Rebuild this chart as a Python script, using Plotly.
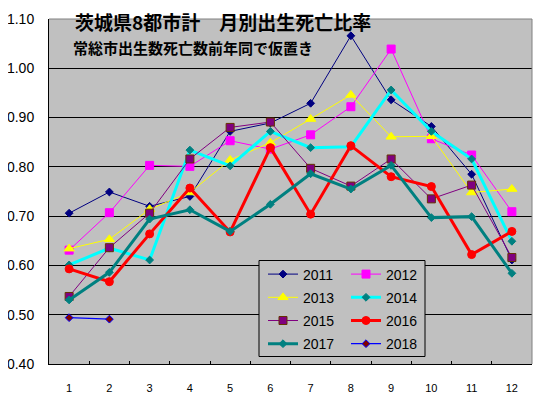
import plotly.graph_objects as go

months = [str(i) for i in range(1, 13)]
years = ["2011", "2012", "2013", "2014", "2015", "2016", "2017", "2018"]

v2011 = [0.706, 0.749, 0.720, 0.740, 0.872, 0.889, 0.929, 1.066, 0.936, 0.882, 0.785, 0.611]
v2012 = [0.631, 0.707, 0.803, 0.801, 0.853, 0.836, 0.865, 0.922, 1.039, 0.857, 0.824, 0.709]
v2013 = [0.634, 0.653, 0.714, 0.748, 0.814, 0.849, 0.897, 0.946, 0.861, 0.862, 0.748, 0.755]
v2014 = [0.601, 0.635, 0.611, 0.834, 0.802, 0.872, 0.839, 0.841, 0.956, 0.872, 0.816, 0.649]
v2015 = [0.537, 0.636, 0.706, 0.816, 0.880, 0.891, 0.797, 0.761, 0.816, 0.735, 0.763, 0.616]
v2016 = [0.593, 0.567, 0.664, 0.757, 0.668, 0.839, 0.704, 0.843, 0.780, 0.760, 0.622, 0.669]
v2017 = [0.530, 0.586, 0.694, 0.713, 0.669, 0.724, 0.786, 0.755, 0.803, 0.697, 0.699, 0.584]
v2018 = [0.494, 0.491, None, None, None, None, None, None, None, None, None, None]

series = [v2011, v2012, v2013, v2014, v2015, v2016, v2017, v2018]

styles = [
    dict(lc="#000080", lw=1, sym="diamond", ms=6, mc="#000080", mlc="#000080", leg="legend"),
    dict(lc="#FF00FF", lw=1, sym="square", ms=8, mc="#FF00FF", mlc="#FF00FF", leg="legend2"),
    dict(lc="#FFFF00", lw=1, sym="triangle-up", ms=9, mc="#FFFF00", mlc="#FFFF00", leg="legend"),
    dict(lc="#00FFFF", lw=3, sym="diamond", ms=6, mc="#008080", mlc="#008080", leg="legend2"),
    dict(lc="#800080", lw=1, sym="square", ms=8, mc="#800080", mlc="#663300", leg="legend"),
    dict(lc="#FF0000", lw=3, sym="circle", ms=8, mc="#FF0000", mlc="#FF0000", leg="legend2"),
    dict(lc="#008080", lw=3, sym="diamond", ms=6, mc="#008080", mlc="#008080", leg="legend"),
    dict(lc="#0000FF", lw=1.3, sym="diamond", ms=6, mc="#800000", mlc="#0000FF", leg="legend2"),
]

fig = go.Figure()
for name, vals, st in zip(years, series, styles):
    fig.add_trace(go.Scatter(
        x=months, y=vals, name=name, mode="lines+markers",
        line=dict(color=st["lc"], width=st["lw"]),
        marker=dict(symbol=st["sym"], size=st["ms"], color=st["mc"],
                    line=dict(color=st["mlc"], width=1)),
        legend=st["leg"], legendgroup=name,
    ))

# page is shown with an 8px body margin, so the figure is shifted by OFF
OFF = 8
W, H = 542 - OFF, 393 - OFF
L, R, T, B = 49 - OFF, 10, 19 - OFF, 29
pw, ph = W - L - R, H - T - B

def px(x):
    return (x - OFF - L) / pw

def py(y):
    return (H - B - (y - OFF)) / ph

legfont = dict(family="Liberation Sans, Arial, sans-serif", size=14, color="#000000")
fig.update_layout(
    width=W, height=H,
    margin=dict(l=L, r=R, t=T, b=B, autoexpand=False),
    paper_bgcolor="white", plot_bgcolor="#C0C0C0",
    legend=dict(x=px(263), y=py(258.5), xanchor="left", yanchor="top",
                bgcolor="rgba(0,0,0,0)", font=legfont, tracegroupgap=2,
                itemwidth=30),
    legend2=dict(x=px(346), y=py(258.5), xanchor="left", yanchor="top",
                 bgcolor="rgba(0,0,0,0)", font=legfont, tracegroupgap=2,
                 itemwidth=30),
    xaxis=dict(type="category", range=[-0.5, 11.5], showline=True, linecolor="black", linewidth=1,
               ticks="inside", ticklen=3, tickcolor="black", tickson="boundaries",
               showgrid=False, automargin=False,
               tickfont=dict(family="Liberation Sans, Arial, sans-serif", size=11, color="black"),
               ticklabelstandoff=14),
    yaxis=dict(range=[0.4, 1.1], dtick=0.1, tickformat=".2f", showline=True,
               linecolor="black", linewidth=1, ticks="", showgrid=True,
               gridcolor="black", gridwidth=1, zeroline=False, automargin=False,
               tickfont=dict(family="Liberation Sans, Arial, sans-serif", size=14, color="black"),
               ticklabelstandoff=11),
    showlegend=True,
    shapes=[
        dict(type="line", xref="paper", yref="paper", x0=0, x1=1, y0=1, y1=1,
             line=dict(color="#808080", width=1), layer="above"),
        dict(type="line", xref="paper", yref="paper", x0=1, x1=1, y0=0, y1=1,
             line=dict(color="#808080", width=1), layer="above"),
        dict(type="rect", xref="paper", yref="paper", x0=px(259), x1=px(425),
             y0=py(356.5), y1=py(260.5), line=dict(color="black", width=1),
             fillcolor="#C0C0C0", layer="above"),
    ],
    annotations=[
        dict(text="<b>茨城県8都市計　月別出生死亡比率</b>", xref="paper", yref="paper",
             x=px(74), y=py(21.5), xanchor="left", yanchor="middle", showarrow=False,
             borderpad=0,
             font=dict(family="Noto Sans CJK JP", size=19, color="black")),
        dict(text="<b>常総市出生数死亡数前年同で仮置き</b>", xref="paper", yref="paper",
             x=px(71), y=py(47), xanchor="left", yanchor="middle", showarrow=False,
             font=dict(family="Noto Sans CJK JP", size=15, color="black")),
    ],
)

fig.write_html("out.html")
